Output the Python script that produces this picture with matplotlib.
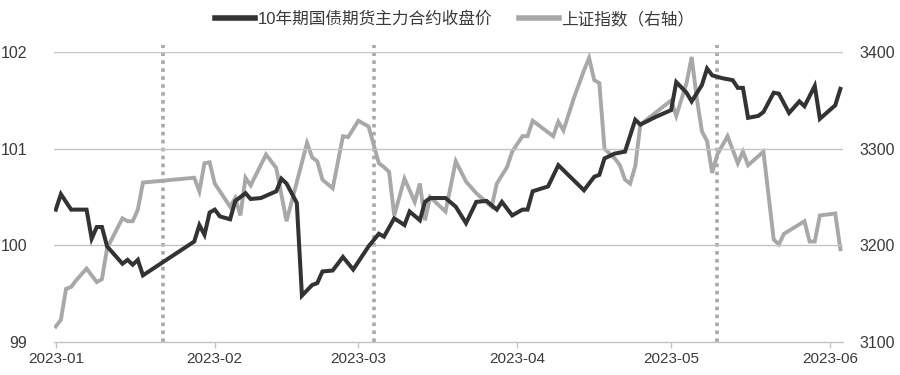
import pandas as pd
import matplotlib
matplotlib.use('Agg')
import matplotlib.pyplot as plt

#10Y treasury bond futures, main contract close (left axis)
bond_dates = ['2023-01-03', '2023-01-04', '2023-01-06', '2023-01-09', '2023-01-10', '2023-01-11',
              '2023-01-12', '2023-01-13', '2023-01-16', '2023-01-17', '2023-01-18', '2023-01-19',
              '2023-01-20', '2023-01-30', '2023-01-31', '2023-02-01', '2023-02-02', '2023-02-03',
              '2023-02-04', '2023-02-06', '2023-02-07', '2023-02-09', '2023-02-10', '2023-02-12',
              '2023-02-15', '2023-02-16', '2023-02-17', '2023-02-19', '2023-02-20', '2023-02-22',
              '2023-02-23', '2023-02-24', '2023-02-26', '2023-02-28', '2023-03-02', '2023-03-05',
              '2023-03-07', '2023-03-08', '2023-03-10', '2023-03-12', '2023-03-13', '2023-03-15',
              '2023-03-16', '2023-03-17', '2023-03-20', '2023-03-22', '2023-03-24', '2023-03-26',
              '2023-03-28', '2023-03-30', '2023-03-31', '2023-04-02', '2023-04-04', '2023-04-05',
              '2023-04-06', '2023-04-09', '2023-04-11', '2023-04-16', '2023-04-18', '2023-04-19',
              '2023-04-20', '2023-04-22', '2023-04-24', '2023-04-26', '2023-04-27', '2023-04-30',
              '2023-05-03', '2023-05-04', '2023-05-06', '2023-05-07', '2023-05-09', '2023-05-10',
              '2023-05-11', '2023-05-13', '2023-05-15', '2023-05-16', '2023-05-17', '2023-05-18',
              '2023-05-20', '2023-05-21', '2023-05-23', '2023-05-24', '2023-05-26', '2023-05-28',
              '2023-05-29', '2023-05-31', '2023-06-01', '2023-06-04', '2023-06-05']
bond_values = [100.37, 100.53, 100.37, 100.37, 100.07, 100.19,
               100.19, 99.99, 99.81, 99.85, 99.80, 99.85,
               99.69, 100.04, 100.21, 100.11, 100.34, 100.37,
               100.30, 100.27, 100.46, 100.54, 100.48, 100.49,
               100.56, 100.69, 100.64, 100.44, 99.48, 99.59,
               99.61, 99.73, 99.74, 99.88, 99.75, 99.99,
               100.12, 100.09, 100.28, 100.21, 100.35, 100.26,
               100.45, 100.49, 100.49, 100.40, 100.23, 100.45,
               100.46, 100.37, 100.45, 100.31, 100.37, 100.37,
               100.56, 100.61, 100.83, 100.57, 100.71, 100.73,
               100.90, 100.95, 100.97, 101.30, 101.25, 101.33,
               101.40, 101.69, 101.58, 101.49, 101.66, 101.83,
               101.76, 101.73, 101.71, 101.63, 101.63, 101.32,
               101.34, 101.38, 101.58, 101.57, 101.37, 101.49,
               101.44, 101.65, 101.31, 101.45, 101.62]

#Shanghai composite index (right axis)
index_dates = ['2023-01-03', '2023-01-04', '2023-01-05', '2023-01-06', '2023-01-07', '2023-01-09',
               '2023-01-11', '2023-01-12', '2023-01-13', '2023-01-16', '2023-01-17', '2023-01-18',
               '2023-01-19', '2023-01-20', '2023-01-30', '2023-01-31', '2023-02-01', '2023-02-02',
               '2023-02-03', '2023-02-06', '2023-02-07', '2023-02-08', '2023-02-09', '2023-02-10',
               '2023-02-13', '2023-02-15', '2023-02-17', '2023-02-21', '2023-02-22', '2023-02-23',
               '2023-02-24', '2023-02-26', '2023-02-28', '2023-03-01', '2023-03-03', '2023-03-05',
               '2023-03-07', '2023-03-08', '2023-03-09', '2023-03-10', '2023-03-12', '2023-03-14',
               '2023-03-15', '2023-03-16', '2023-03-17', '2023-03-20', '2023-03-22', '2023-03-24',
               '2023-03-26', '2023-03-29', '2023-03-30', '2023-04-01', '2023-04-02', '2023-04-04',
               '2023-04-05', '2023-04-06', '2023-04-08', '2023-04-10', '2023-04-11', '2023-04-12',
               '2023-04-14', '2023-04-16', '2023-04-17', '2023-04-18', '2023-04-19', '2023-04-20',
               '2023-04-22', '2023-04-23', '2023-04-24', '2023-04-25', '2023-04-26', '2023-04-27',
               '2023-05-03', '2023-05-04', '2023-05-06', '2023-05-07', '2023-05-08', '2023-05-09',
               '2023-05-10', '2023-05-11', '2023-05-12', '2023-05-14', '2023-05-16', '2023-05-17',
               '2023-05-18', '2023-05-21', '2023-05-23', '2023-05-24', '2023-05-25', '2023-05-29',
               '2023-05-30', '2023-05-31', '2023-06-01', '2023-06-04', '2023-06-05']
index_values = [3116, 3123, 3155, 3157, 3164, 3176,
                3162, 3165, 3197, 3228, 3225, 3225,
                3237, 3265, 3270, 3256, 3285, 3286,
                3264, 3240, 3249, 3231, 3270, 3262,
                3294, 3280, 3225, 3306, 3291, 3287,
                3268, 3259, 3313, 3312, 3329, 3323,
                3285, 3281, 3276, 3231, 3269, 3245,
                3264, 3226, 3250, 3235, 3287, 3266,
                3254, 3240, 3264, 3281, 3297, 3313,
                3313, 3329, 3321, 3313, 3328, 3319,
                3352, 3381, 3394, 3371, 3368, 3300,
                3290, 3283, 3268, 3264, 3282, 3325,
                3350, 3334, 3368, 3395, 3352, 3318,
                3308, 3275, 3294, 3313, 3285, 3297,
                3283, 3297, 3206, 3201, 3212, 3225,
                3204, 3204, 3231, 3233, 3196]

#dotted marker lines
marker_dates = ['2023-01-24', '2023-03-06', '2023-05-12']

tick_dates = ['2023-01-03', '2023-02-03', '2023-03-03', '2023-04-03', '2023-05-03', '2023-06-03']
tick_labels = ['2023-01', '2023-02', '2023-03', '2023-04', '2023-05', '2023-06']

left_ticks = [99, 100, 101, 102]
right_ticks = [3100, 3200, 3300, 3400]

bond_label = '10年期国债期货主力合约收盘价'
index_label = '上证指数（右轴）'


def main():
    plt.rcParams['font.family'] = ['Liberation Sans', 'Noto Sans CJK SC', 'DejaVu Sans']
    text_color = '#3a3a3a'
    grid_color = '#c4c4c4'
    dark = '#333333'
    light = '#a8a8a8'

    fig = plt.figure(figsize=(9, 3.75), dpi=100)
    ax = fig.add_axes([0.0596, 0.088, 0.877, 0.773])
    ax2 = ax.twinx()

    #lines
    l1, = ax.plot(pd.to_datetime(bond_dates), bond_values, color=dark, lw=2.9,
                  solid_joinstyle='miter', zorder=4)
    l2, = ax2.plot(pd.to_datetime(index_dates), index_values, color=light, lw=2.8,
                   solid_joinstyle='miter', zorder=3)
    ax.set_zorder(ax2.get_zorder() + 1)
    ax.patch.set_visible(False)

    for d in marker_dates:
        ax2.axvline(pd.Timestamp(d), ymin=0, ymax=1.025, color='#a8a8a8', lw=2.6,
                    linestyle=(0, (1, 1.2)), clip_on=False, zorder=1)

    #axes limits and ticks
    ax.set_xlim(pd.Timestamp('2023-01-02 14:00'), pd.Timestamp('2023-06-05 12:00'))
    ax.set_ylim(99, 102)
    ax2.set_ylim(3100, 3400)
    ax.set_yticks(left_ticks)
    ax2.set_yticks(right_ticks)
    ax.set_xticks(pd.to_datetime(tick_dates))
    ax.set_xticklabels(tick_labels)

    for a in (ax, ax2):
        for s in a.spines.values():
            s.set_visible(False)
    ax.spines['bottom'].set_visible(True)
    ax.spines['bottom'].set_color(grid_color)
    ax.spines['bottom'].set_linewidth(1.0)

    for v in left_ticks[1:]:
        ax.axhline(v, color=grid_color, lw=1.0, zorder=0)

    ax.tick_params(axis='x', colors=grid_color, length=4, width=1, labelcolor=text_color,
                   labelsize=11, pad=3)
    ax.tick_params(axis='y', length=0, labelcolor=text_color, labelsize=11.5, pad=19)
    ax2.tick_params(axis='y', length=0, labelcolor=text_color, labelsize=11.5, pad=12)

    #legend
    leg = fig.legend([l1, l2], [bond_label, index_label], loc='upper center',
                     bbox_to_anchor=(0.505, 1.01), ncol=2, frameon=False, fontsize=12,
                     handlelength=2.4, handletextpad=0.15, columnspacing=1.6,
                     labelcolor=text_color)
    for h in leg.get_lines():
        h.set_linewidth(4)

    plt.savefig('out.png', dpi=100)


if __name__ == '__main__':
    main()
